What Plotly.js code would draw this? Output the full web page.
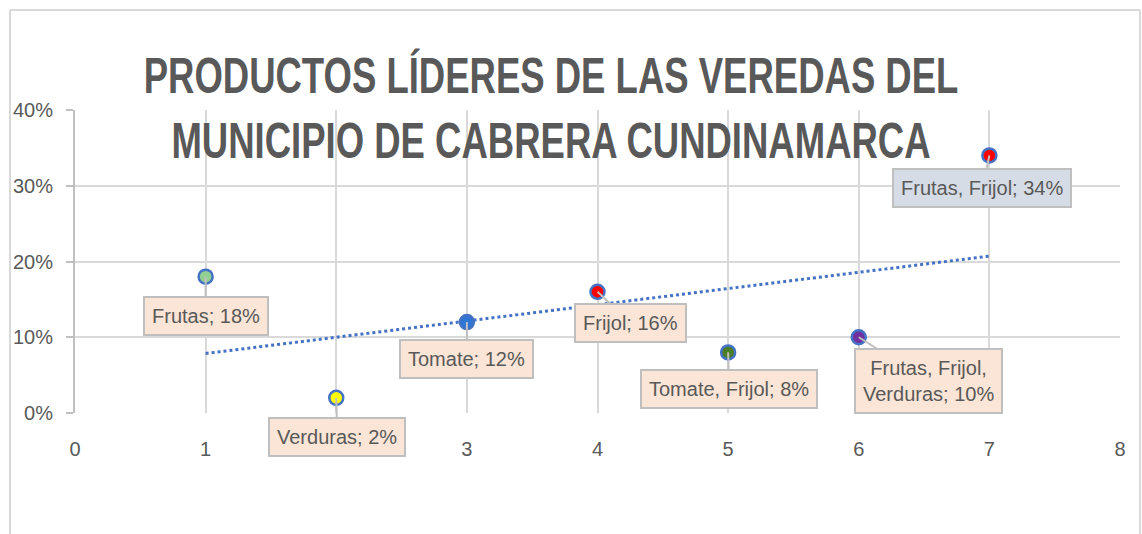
<!DOCTYPE html>
<html>
<head>
<meta charset="utf-8">
<script src="https://cdn.plot.ly/plotly-3.0.1.min.js"></script>
<style>html,body{margin:0;padding:0;background:#fff;}#chart{width:1142px;height:534px;}</style>
</head>
<body>
<div id="chart"></div>
<script>
// ---- data ----
const xValues = [1, 2, 3, 4, 5, 6, 7];
const yValues = [0.18, 0.02, 0.12, 0.16, 0.08, 0.10, 0.34];
const productLabels = ["Frutas", "Verduras", "Tomate", "Frijol", "Tomate, Frijol", "Frutas, Frijol,<br>Verduras", "Frutas, Frijol"];
const markerFill = ["#92d092", "#ffff00", "#2e75d6", "#ff0000", "#4e7d2a", "#7030a0", "#ff0000"];
const calloutFill = ["#fbe5d6", "#fbe5d6", "#fbe5d6", "#fbe5d6", "#fbe5d6", "#fbe5d6", "#d6dce5"];
const calloutOffsetX = [0, 1, 0, 33, 1, 70, -7];
const calloutOffsetY = [39, 39, 37, 31, 37, 44, 33];
const yTickVals = [0, 0.1, 0.2, 0.3, 0.4];
const yTickText = ["0%", "10%", "20%", "30%", "40%"];
const xTickVals = [0, 1, 2, 3, 4, 5, 6, 7, 8];
const titleText = "PRODUCTOS LÍDERES DE LAS VEREDAS DEL<br>MUNICIPIO DE CABRERA CUNDINAMARCA";

// linear trendline (least squares) from the data
const n = xValues.length;
const mx = xValues.reduce((a, b) => a + b, 0) / n;
const my = yValues.reduce((a, b) => a + b, 0) / n;
let sxy = 0, sxx = 0;
for (let i = 0; i < n; i++) { sxy += (xValues[i] - mx) * (yValues[i] - my); sxx += (xValues[i] - mx) ** 2; }
const slope = sxy / sxx, intercept = my - slope * mx;
const trendX = [xValues[0], xValues[n - 1]];
const trendY = trendX.map(x => intercept + slope * x);

const textColor = "#595959";
const labelFont = "Liberation Sans, Arial, sans-serif";

const traces = [
  {
    x: trendX, y: trendY, mode: "lines", type: "scatter",
    line: {color: "#4472c4", width: 3, dash: "dot"}, hoverinfo: "skip", showlegend: false
  },
  {
    x: xValues, y: yValues, mode: "markers", type: "scatter",
    marker: {size: 14, color: markerFill, line: {color: "#4472c4", width: 2.5}},
    showlegend: false
  }
];

const annotations = xValues.map((x, i) => ({
  x: x, y: yValues[i], xref: "x", yref: "y",
  text: productLabels[i] + "; " + Math.round(yValues[i] * 100) + "%",
  showarrow: true, arrowhead: 0, arrowwidth: 2, arrowcolor: "#bfbfbf",
  ax: calloutOffsetX[i], ay: calloutOffsetY[i], standoff: 0,
  bgcolor: calloutFill[i], bordercolor: "#bfbfbf", borderwidth: 2, borderpad: 7,
  font: {family: labelFont, size: 20, color: textColor}
}));

const layout = {
  width: 1142, height: 534,
  margin: {l: 75, r: 22, t: 110, b: 121, pad: 0},
  paper_bgcolor: "#ffffff", plot_bgcolor: "#ffffff",
  title: {
    text: titleText,
    font: {family: "Liberation Sans, Arial, sans-serif", size: 50, color: textColor, weight: "bold"},
    x: 0.4825, xref: "container", xanchor: "center",
    y: 0.825, yref: "container", yanchor: "top"
  },
  xaxis: {
    range: [0, 8], tickvals: xTickVals, showgrid: true, gridcolor: "#d9d9d9", gridwidth: 2,
    zeroline: false, showline: false, ticks: "", ticklabelstandoff: 22,
    tickfont: {family: labelFont, size: 20, color: textColor}, fixedrange: true
  },
  yaxis: {
    range: [0, 0.4], tickvals: yTickVals, ticktext: yTickText, showgrid: true, gridcolor: "#d9d9d9", gridwidth: 2,
    zeroline: false, showline: true, linecolor: "#bfbfbf", linewidth: 2,
    ticks: "outside", ticklen: 7, tickcolor: "#bfbfbf", tickwidth: 2, ticklabelstandoff: 9,
    tickfont: {family: labelFont, size: 20, color: textColor}, fixedrange: true
  },
  annotations: annotations,
  shapes: [
    {type: "line", xref: "paper", yref: "paper", x0: -0.0622, x1: -0.0622, y0: -0.6, y1: 1.33, line: {color: "#d9d9d9", width: 2}},
    {type: "line", xref: "paper", yref: "paper", x0: -0.0622, x1: 1.0191, y0: 1.33, y1: 1.33, line: {color: "#d9d9d9", width: 2}},
    {type: "line", xref: "paper", yref: "paper", x0: 1.0191, x1: 1.0191, y0: -0.6, y1: 1.33, line: {color: "#d9d9d9", width: 2}}
  ]
};

Plotly.newPlot("chart", traces, layout, {displayModeBar: false, staticPlot: true}).then(function (gd) {
  // narrow the title horizontally to mimic the condensed title face of the original
  const t = gd.querySelector(".gtitle");
  if (t) {
    const bb = t.getBBox();
    const s = 815 / bb.width;
    const cx = bb.x + bb.width / 2;
    const prev = t.getAttribute("transform") || "";
    t.setAttribute("transform", prev + " translate(" + cx + ",0) scale(" + s + ",1) translate(" + (-cx) + ",0)");
  }
});
</script>
</body>
</html>
